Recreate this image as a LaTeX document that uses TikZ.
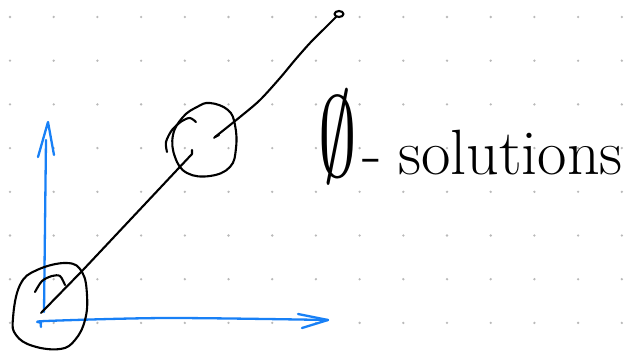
\documentclass[tikz,border=0pt]{standalone}
\usepackage{amssymb}
\usetikzlibrary{arrows.meta, positioning}
\definecolor{azul}{RGB}{24,128,246}
\definecolor{punto}{RGB}{185,185,185}

\begin{document}
\begin{tikzpicture}[
    x=1pt, y=-1pt,
    rejilla/.style={fill=punto},
    eje/.style={draw=azul, line width=2.3pt, line cap=round, line join=round},
    trazo/.style={draw=black, line width=2.1pt, line cap=round, line join=round},
    rotulo/.style={font=\fontsize{64}{72}\selectfont, inner sep=0pt}
  ]
  \useasboundingbox (0,0) rectangle (632,353);

  % --- Rejilla de puntos ---
  \foreach \i in {0,...,14}
    \foreach \j in {0,...,7}
      \fill[rejilla] (10+43.7*\i,17+43.7*\j) circle (1.3);

  % --- Puntos de referencia ---
  \coordinate (origen) at (41,313);
  \coordinate (ejey)   at (48,122);
  \coordinate (ejex)   at (328,320);
  \coordinate (medio)  at (192,154);
  \coordinate (salida) at (215,137);
  \coordinate (cima)   at (339,14);

  % --- Ejes ---
  \draw[eje] (44,312) -- (46,140);
  \draw[eje] (38,157) -- (ejey) -- (54,155);
  \draw[eje] plot[smooth] coordinates {(41,327) (41,323) (46,321)
        (167,318) (ejex)};
  \draw[eje] (298,314) -- (ejex) -- (302,328);

  % --- Recta ---
  \draw[trazo] (origen) -- (83,270) -- (medio) -- (192,150);
  \draw[trazo] (219,135) -- (salida) -- (214,138);
  \draw[trazo] plot[smooth] coordinates {(salida) (240,117) (260,100)
        (280,78) (295,60) (310,43) (325,28) (cima)};
  \draw[trazo, fill=white] (cima) ellipse (4.5 and 3);

  % --- Circulo en el origen ---
  \draw[trazo] plot[smooth cycle, tension=0.7] coordinates {
        (13,318) (20,285) (37,270) (67,263) (82,272) (87,295)
        (85,320) (75,340) (60,349) (33,346) (16,335)};
  \draw[trazo] plot[smooth] coordinates {(35,292) (42,281) (52,276)
        (60,276) (65,285)};

  % --- Circulo intermedio ---
  \draw[trazo] plot[smooth cycle, tension=0.7] coordinates {
        (210,103) (228,110) (235,125) (236,148) (230,167) (210,176)
        (187,173) (175,157) (173,135) (183,117) (197,107)};
  \draw[trazo] plot[smooth] coordinates {(167,152) (166,142) (172,130)
        (182,121) (190,118) (196,122)};

  % --- Rotulo ---
  \node[rotulo, anchor=base west] (rotulo) at (318,174)
       {\raisebox{-2pt}{\scalebox{3.1}[4.6]{$\emptyset$}}\hspace{6pt}-\hspace{16pt}solutions};
\end{tikzpicture}
\end{document}
